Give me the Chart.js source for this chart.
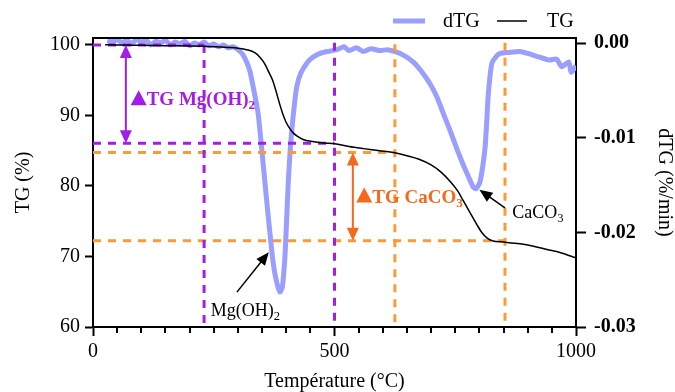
<!DOCTYPE html>
<html><head><meta charset="utf-8">
<script src="https://cdn.jsdelivr.net/npm/chart.js@4.4.1/dist/chart.umd.min.js"></script>
<style>html,body{margin:0;padding:0;background:#fff}#wrap{width:675px;height:392px}</style>
</head><body><div id="wrap"><canvas id="c" width="675" height="392"></canvas></div>
<script>
// ---- data ----
const tgTemp   = [25,50,100,150,200,250,280,300,320,335,345,355,365,373,380,387,393,400,408,415,422,435,455,480,500,530,560,594,625,650,675,700,720,740,755,766,780,795,805,816,828,850,884,910,940,970,1000];
const tgValues = [100.05,100.0,99.95,99.9,99.85,99.75,99.65,99.55,99.3,98.9,98.3,97.4,96.0,94.8,93.2,91.5,90.2,89.0,88.1,87.5,87.1,86.6,86.3,86.1,86.0,85.6,85.3,85.0,84.7,84.3,83.8,83.0,82.0,80.6,79.3,78.0,76.3,74.5,73.4,72.6,72.2,72.05,71.8,71.5,71.0,70.5,69.8];

const dtgTemp   = [30,40,50,60,70,80,90,100,110,120,130,140,150,160,170,180,190,200,210,220,230,240,250,260,270,280,290,300,310,318,325,333,342,352,362,373,380,387,392,398,404,408,412,417,422,430,443,455,470,485,505,520,530,545,560,575,594,610,625,636,650,665,677,690,700,712,725,739,752,766,778,787,793,801,807,812,815,818,822,826,835,843,860,884,900,925,945,960,970,985,990,1000];
const dtgValues = [0.0003,0.0001,0.0004,0.0000,0.0003,-0.0001,0.0004,0.0001,0.0003,-0.0002,0.0002,0.0000,0.0003,-0.0002,0.0001,-0.0001,0.0002,-0.0003,0.0000,-0.0002,0.0001,-0.0003,-0.0001,-0.0004,-0.0002,-0.0005,-0.0004,-0.0007,-0.0012,-0.0020,-0.0030,-0.0050,-0.0075,-0.0126,-0.0179,-0.0232,-0.0252,-0.0263,-0.0258,-0.0220,-0.0150,-0.0115,-0.0090,-0.0065,-0.0046,-0.0032,-0.0021,-0.0015,-0.0011,-0.0009,-0.0007,-0.0004,-0.0008,-0.0005,-0.0009,-0.0006,-0.0008,-0.0007,-0.0009,-0.0011,-0.0015,-0.0021,-0.0028,-0.0037,-0.0045,-0.0057,-0.0074,-0.0092,-0.0110,-0.0128,-0.0142,-0.0152,-0.0154,-0.0147,-0.0130,-0.0109,-0.0085,-0.0057,-0.0035,-0.0021,-0.0014,-0.0011,-0.0010,-0.0009,-0.0011,-0.0015,-0.0018,-0.0017,-0.0025,-0.0020,-0.0031,-0.0024];

const xTickLabels = [0, 500, 1000];
const xMinorStep = 50;
const tgTicks = [60, 70, 80, 90, 100];
const dtgTicks = [0, -0.01, -0.02, -0.03];

// reference levels of the two mass-loss steps
const mgLevels = [100, 86.05];
const mgTemps  = [230, 500];
const caLevels = [84.75, 72.25];
const caTemps  = [625, 853];
const arrowTemps = [68, 538];

// ---- styles ----
const FONT = 'Liberation Serif';
const PURPLE = '#A21EE6';
const ORANGE = '#FF9933';
const ORANGE_TXT = '#F46A1C';
const BLUE = '#9A9EFF';

function seg(x0, y0, x1, y1, color) {
  return {data: [{x: x0, y: y0}, {x: x1, y: y1}], borderColor: color, borderWidth: 3,
    borderDash: [8, 7], pointRadius: 0, yAxisID: 'y', fill: false, tension: 0};
}

const datasets = [
  {label: 'TG', data: tgTemp.map((t, i) => ({x: t, y: tgValues[i]})), borderColor: '#000', borderWidth: 1.5,
   pointRadius: 0, yAxisID: 'y', cubicInterpolationMode: 'monotone'},
  seg(0, mgLevels[0], mgTemps[0], mgLevels[0], PURPLE),
  seg(mgTemps[0], mgLevels[0], mgTemps[0], 60, PURPLE),
  seg(0, mgLevels[1], mgTemps[1], mgLevels[1], PURPLE),
  seg(mgTemps[1], 100.3, mgTemps[1], 60.5, PURPLE),
  seg(0, caLevels[0], caTemps[0], caLevels[0], ORANGE),
  seg(caTemps[0], 100.1, caTemps[0], 60, ORANGE),
  seg(0, caLevels[1], caTemps[1], caLevels[1], ORANGE),
  seg(caTemps[1], 100.3, caTemps[1], 60, ORANGE),
  {label: 'dTG', data: dtgTemp.map((t, i) => ({x: t, y: dtgValues[i]})), borderColor: BLUE, borderWidth: 5,
   pointRadius: 0, yAxisID: 'y1', tension: 0.2, borderJoinStyle: 'round'}
];

function head(ctx, x, y, ang, len, w, color) {
  ctx.save(); ctx.translate(x, y); ctx.rotate(ang);
  ctx.beginPath(); ctx.moveTo(0, 0); ctx.lineTo(-len, -w / 2); ctx.lineTo(-len, w / 2); ctx.closePath();
  ctx.fillStyle = color; ctx.fill(); ctx.restore();
}

function subText(ctx, parts, x, y, color, bold, size) {
  ctx.fillStyle = color; ctx.textBaseline = 'alphabetic'; ctx.textAlign = 'left';
  let cx = x;
  for (const [t, sub] of parts) {
    const s = sub ? size * 0.7 : size;
    ctx.font = (bold ? 'bold ' : '') + s + 'px "' + FONT + '"';
    ctx.fillText(t, cx, sub ? y + size * 0.22 : y);
    cx += ctx.measureText(t).width;
  }
}

const decor = {
  id: 'decor',
  afterDraw(chart) {
    const ctx = chart.ctx, a = chart.chartArea, xs = chart.scales.x, ys = chart.scales.y;
    ctx.save();
    ctx.setLineDash([]);
    // top frame
    ctx.strokeStyle = '#000'; ctx.lineWidth = 2;
    ctx.beginPath(); ctx.moveTo(a.left - 1, a.top); ctx.lineTo(a.right + 1, a.top); ctx.stroke();
    // minor x ticks
    for (let v = 0; v <= 1000; v += xMinorStep) {
      if (xTickLabels.includes(v)) continue;
      const px = Math.round(xs.getPixelForValue(v));
      ctx.beginPath(); ctx.moveTo(px, a.bottom - 1); ctx.lineTo(px, a.bottom + 6); ctx.stroke();
    }
    // double arrows
    const dbl = (t, v1, v2, color) => {
      const x = xs.getPixelForValue(t), y1 = ys.getPixelForValue(v1), y2 = ys.getPixelForValue(v2);
      ctx.strokeStyle = color; ctx.lineWidth = 2;
      ctx.beginPath(); ctx.moveTo(x, y1 + 10); ctx.lineTo(x, y2 - 10); ctx.stroke();
      head(ctx, x, y1, -Math.PI / 2, 13, 12, color);
      head(ctx, x, y2, Math.PI / 2, 13, 12, color);
    };
    dbl(arrowTemps[0], mgLevels[0], mgLevels[1], PURPLE);
    dbl(arrowTemps[1], caLevels[0], caLevels[1], ORANGE_TXT);
    // delta labels
    const tri = (x, y, color) => {
      ctx.fillStyle = color; ctx.beginPath();
      ctx.moveTo(x + 8, y - 15); ctx.lineTo(x + 16, y); ctx.lineTo(x, y); ctx.closePath(); ctx.fill();
    };
    let lx = xs.getPixelForValue(78), ly = ys.getPixelForValue(91.45);
    tri(lx, ly, PURPLE);
    subText(ctx, [['TG Mg(OH)', false], ['2', true]], lx + 16, ly, PURPLE, true, 19);
    lx = xs.getPixelForValue(545); ly = ys.getPixelForValue(77.65);
    tri(lx, ly, ORANGE_TXT);
    subText(ctx, [['TG CaCO', false], ['3', true]], lx + 16, ly, ORANGE_TXT, true, 19);
    // pointer arrows
    const ptr = (t0, v0, t1, v1) => {
      const x0 = xs.getPixelForValue(t0), y0 = ys.getPixelForValue(v0);
      const x1 = xs.getPixelForValue(t1), y1 = ys.getPixelForValue(v1);
      const ang = Math.atan2(y1 - y0, x1 - x0);
      ctx.strokeStyle = '#000'; ctx.lineWidth = 1.5;
      ctx.beginPath(); ctx.moveTo(x0, y0); ctx.lineTo(x1 - 10 * Math.cos(ang), y1 - 10 * Math.sin(ang)); ctx.stroke();
      head(ctx, x1, y1, ang, 13, 11, '#000');
    };
    ptr(298, 64.95, 364, 70.6);
    ptr(853, 76.9, 800, 79.45);
    subText(ctx, [['Mg(OH)', false], ['2', true]], xs.getPixelForValue(244), ys.getPixelForValue(61.6), '#000', false, 18);
    subText(ctx, [['CaCO', false], ['3', true]], xs.getPixelForValue(868), ys.getPixelForValue(75.5), '#000', false, 18);
    // legend
    const items = [['dTG', BLUE, 5, 393, 425, 443], ['TG', '#000', 1.5, 497, 527, 547]];
    ctx.font = '20px "' + FONT + '"'; ctx.textBaseline = 'middle'; ctx.textAlign = 'left';
    for (const [lab, col, w, s0, s1, tx] of items) {
      ctx.strokeStyle = col; ctx.lineWidth = w;
      ctx.beginPath(); ctx.moveTo(s0, 21); ctx.lineTo(s1, 21); ctx.stroke();
      ctx.fillStyle = '#000'; ctx.fillText(lab, tx, 22);
    }
    ctx.restore();
  }
};

new Chart(document.getElementById('c'), {
  type: 'line',
  data: {datasets},
  plugins: [decor],
  options: {
    responsive: false, animation: false,
    layout: {padding: {top: 38, left: 0, right: 0, bottom: 0}},
    plugins: {legend: {display: false}, tooltip: {enabled: false}},
    scales: {
      x: {type: 'linear', min: 0, max: 1000,
        afterBuildTicks: s => { s.ticks = xTickLabels.map(v => ({value: v})); },
        afterFit: s => { s.height = 65; },
        grid: {drawOnChartArea: false, drawTicks: true, tickLength: 9, tickWidth: 2, tickColor: '#000'},
        border: {display: true, color: '#000', width: 2},
        ticks: {font: {family: FONT, size: 20}, color: '#000', padding: 4, maxRotation: 0, autoSkip: false, callback: v => String(v)},
        title: {display: true, text: 'Température (°C)', color: '#000', font: {family: FONT, size: 20, lineHeight: 1}, padding: {top: 0, bottom: 0}}
      },
      y: {position: 'left', min: 60, max: 100.99,
        afterBuildTicks: s => { s.ticks = tgTicks.map(v => ({value: v})); },
        afterFit: s => { s.width = 93; },
        grid: {drawOnChartArea: false, drawTicks: true, tickLength: 8, tickWidth: 2, tickColor: '#000'},
        border: {display: true, color: '#000', width: 2},
        ticks: {font: {family: FONT, size: 20}, color: '#000', padding: 5, callback: v => String(v)},
        title: {display: true, text: 'TG (%)', color: '#000', font: {family: FONT, size: 20, lineHeight: 1}, padding: {top: 14, bottom: 0}}
      },
      y1: {position: 'right', min: -0.03, max: 0.00053,
        afterBuildTicks: s => { s.ticks = dtgTicks.map(v => ({value: v})); },
        afterFit: s => { s.width = 99; },
        grid: {drawOnChartArea: false, drawTicks: true, tickLength: 10, tickWidth: 2, tickColor: '#000'},
        border: {display: true, color: '#000', width: 2},
        ticks: {font: {family: FONT, size: 20, weight: 'bold'}, color: '#000', padding: 8, callback: v => v.toFixed(2)},
        title: {display: true, text: 'dTG (%/min)', color: '#000', font: {family: FONT, size: 20, lineHeight: 1}, padding: {top: 1, bottom: 0}}
      }
    }
  }
});
</script></body></html>
